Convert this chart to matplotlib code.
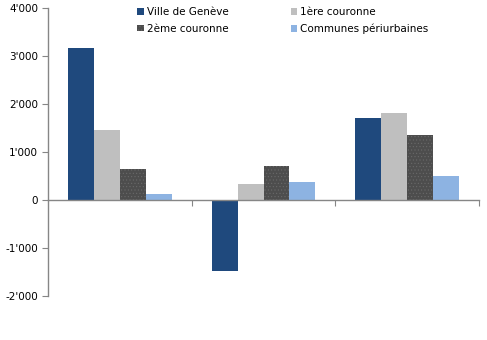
import numpy as np
import matplotlib
matplotlib.use('Agg')
from matplotlib import pyplot as plt
from matplotlib.ticker import FuncFormatter

# data
categories = ['A', 'B', 'C']
series_names = ['Ville de Genève', '1ère couronne', '2ème couronne', 'Communes périurbaines']
ville = [3170, -1470, 1710]
couronne1 = [1460, 335, 1810]
couronne2 = [650, 710, 1355]
periurbaines = [125, 375, 500]

colors = ['#1F497D', '#BFBFBF', '#4D4D4D', '#8DB3E2']

plt.rcParams['font.family'] = 'DejaVu Sans'
plt.rcParams['hatch.color'] = '#6a6a6a'
plt.rcParams['hatch.linewidth'] = 0.4

fig = plt.figure(figsize=(4.87, 3.4), dpi=100)
ax = fig.add_axes([48 / 487, 1 - 296 / 340, (479 - 48) / 487, (296 - 8) / 340])

x = np.arange(len(categories))
width = 0.18
all_series = [ville, couronne1, couronne2, periurbaines]
bars = []
for i, (vals, name, c) in enumerate(zip(all_series, series_names, colors)):
    offs = (i - 1.5) * width
    hatch = '.....' if i == 2 else None
    b = ax.bar(x + offs, vals, width, color=c, label=name, hatch=hatch, linewidth=0,
               edgecolor=c if i != 2 else '#6a6a6a')
    bars.append(b)

ax.set_xlim(-0.5, 2.5)
ax.set_ylim(-2000, 4000)
ax.set_yticks(range(-2000, 4001, 1000))
ax.yaxis.set_major_formatter(FuncFormatter(lambda v, p: f"{int(v):,}".replace(',', "'")))
ax.set_xticks([0.5, 1.5, 2.5])
ax.set_xticklabels([])

for s in ['top', 'right']:
    ax.spines[s].set_visible(False)
ax.spines['bottom'].set_position(('data', 0))
for s in ['left', 'bottom']:
    ax.spines[s].set_color('#868686')
    ax.spines[s].set_linewidth(1.0)
ax.tick_params(axis='both', colors='#868686', labelcolor='black', labelsize=7.5, direction='out', length=4)
ax.tick_params(axis='y', pad=3)

# legend is filled row by row in the reference
order = [0, 2, 1, 3]
fig.legend([bars[k] for k in order], [series_names[k] for k in order],
           loc='upper left', bbox_to_anchor=(130 / 487, 1.0), ncol=2, frameon=False,
           fontsize=7.5, handlelength=0.6, handleheight=0.6, handletextpad=0.3,
           columnspacing=6.0, labelspacing=0.6, borderaxespad=0.3)

fig.savefig('out.png', dpi=100)
